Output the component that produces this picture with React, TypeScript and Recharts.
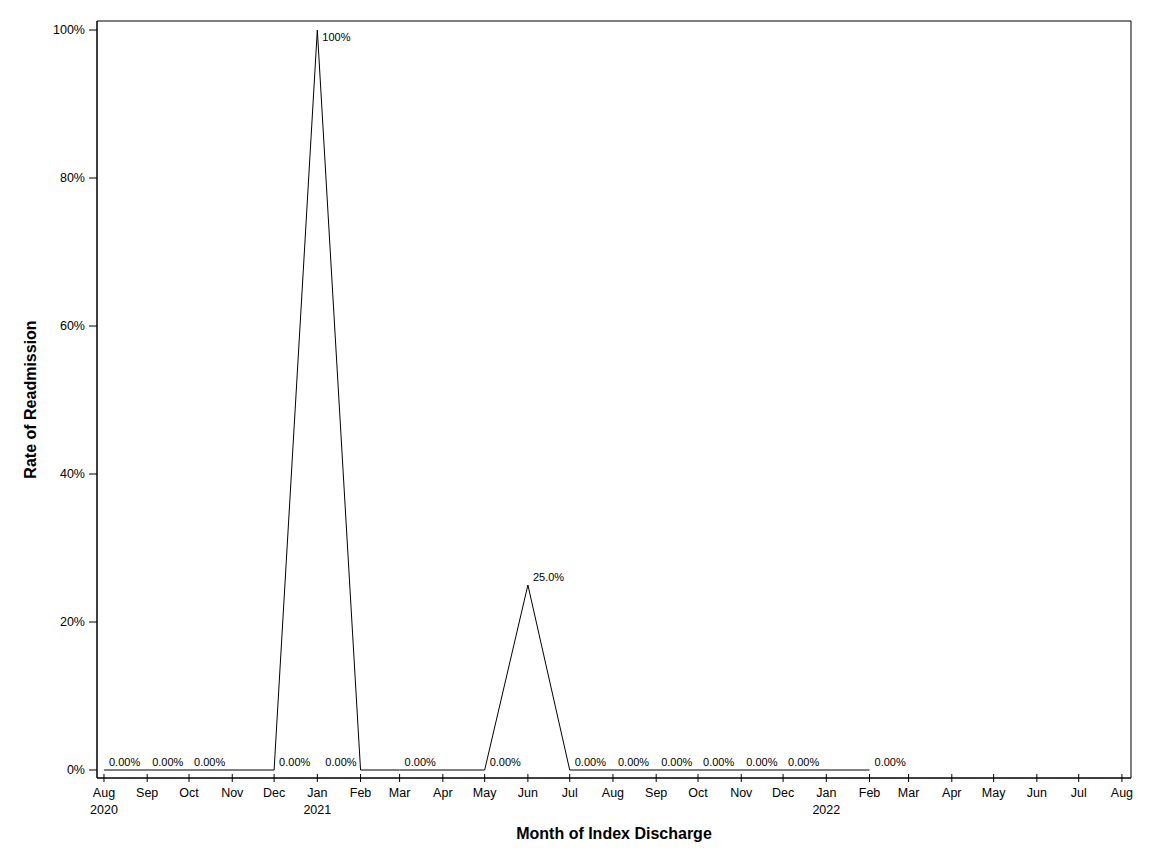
import { LineChart, Line, XAxis, YAxis, ReferenceArea, LabelList, Label } from 'recharts';

// index discharge months that have data, and the readmission rate for each
const months = [
  '2020-08-01', '2020-09-01', '2020-10-01', '2020-12-01', '2021-01-01', '2021-02-01',
  '2021-03-01', '2021-05-01', '2021-06-01', '2021-07-01', '2021-08-01', '2021-09-01',
  '2021-10-01', '2021-11-01', '2021-12-01', '2022-02-01',
];
const rates = [0, 0, 0, 0, 1, 0, 0, 0, 0.25, 0, 0, 0, 0, 0, 0, 0];

const tickDates = [
  '2020-08-01', '2020-09-01', '2020-10-01', '2020-11-01', '2020-12-01', '2021-01-01',
  '2021-02-01', '2021-03-01', '2021-04-01', '2021-05-01', '2021-06-01', '2021-07-01',
  '2021-08-01', '2021-09-01', '2021-10-01', '2021-11-01', '2021-12-01', '2022-01-01',
  '2022-02-01', '2022-03-01', '2022-04-01', '2022-05-01', '2022-06-01', '2022-07-01',
  '2022-08-01',
];
const tickMonths = [
  'Aug', 'Sep', 'Oct', 'Nov', 'Dec', 'Jan', 'Feb', 'Mar', 'Apr', 'May', 'Jun', 'Jul',
  'Aug', 'Sep', 'Oct', 'Nov', 'Dec', 'Jan', 'Feb', 'Mar', 'Apr', 'May', 'Jun', 'Jul', 'Aug',
];
const tickYears = [
  '2020', '', '', '', '', '2021', '', '', '', '', '', '',
  '', '', '', '', '', '2022', '', '', '', '', '', '', '',
];
const rateTicks = [0, 0.2, 0.4, 0.6, 0.8, 1];

const DAY = 86400000;
const ts = (s: string) => Date.parse(s + 'T00:00:00Z');

const data = months.map((m, i) => ({ t: ts(m), rate: rates[i] }));
const xTicks = tickDates.map(ts);
const xDomain = [ts('2020-08-01') - 5 * DAY, ts('2022-08-01') + 6.5 * DAY];
const yDomain = [-0.0108, 1.0122];

const FONT = '"Liberation Sans", Arial, sans-serif';

function MonthTick(props: any) {
  const { x, y, index } = props;
  return (
    <g>
      <line x1={x} x2={x} y1={y - 4} y2={y + 4} stroke="#000" />
      <text x={x} y={y + 19} textAnchor="middle" fontSize={12.5} fontFamily={FONT} fill="#000">
        {tickMonths[index]}
      </text>
      {tickYears[index] && (
        <text x={x} y={y + 36} textAnchor="middle" fontSize={12.5} fontFamily={FONT} fill="#000">
          {tickYears[index]}
        </text>
      )}
    </g>
  );
}

function PointLabel(props: any) {
  const { x, y, value, index } = props;
  const text = (value * 100).toPrecision(3) + '%';
  // the peak label sits under the point, the Feb 2021 one to the left of it
  const below = value >= 1;
  const left = months[index] === '2021-02-01';
  return (
    <text
      x={left ? x - 4 : x + 5}
      y={below ? y + 11 : y - 4}
      textAnchor={left ? 'end' : 'start'}
      fontSize={11}
      fontFamily={FONT}
      fill="#000"
    >
      {text}
    </text>
  );
}

export default function App() {
  return (
    <div style={{ position: 'absolute', left: 0, top: 0, width: 1152, height: 864, background: '#fff' }}>
      <LineChart width={1152} height={864} data={data} margin={{ top: 21, right: 21, bottom: 0, left: 0 }}>
        <XAxis
          dataKey="t"
          type="number"
          domain={xDomain}
          ticks={xTicks}
          interval={0}
          height={86}
          tickSize={0}
          tickMargin={0}
          tickLine={false}
          axisLine={{ stroke: '#000' }}
          tick={<MonthTick />}
          allowDataOverflow
        >
          <Label
            value="Month of Index Discharge"
            position="insideBottom"
            offset={25}
            style={{ fontSize: 16, fontWeight: 'bold', fontFamily: FONT, fill: '#000' }}
          />
        </XAxis>
        <YAxis
          type="number"
          domain={yDomain}
          ticks={rateTicks}
          width={97}
          tickSize={8}
          tickMargin={4}
          tickLine={{ stroke: '#000' }}
          axisLine={{ stroke: '#000' }}
          tick={{ fill: '#000', fontSize: 12.5, fontFamily: FONT }}
          tickFormatter={(v: number) => Math.round(v * 100) + '%'}
          allowDataOverflow
        >
          <Label
            value="Rate of Readmission"
            angle={-90}
            position="insideLeft"
            offset={30}
            style={{ fontSize: 16, fontWeight: 'bold', fontFamily: FONT, fill: '#000', textAnchor: 'middle' }}
          />
        </YAxis>
        <ReferenceArea
          x1={xDomain[0]}
          x2={xDomain[1]}
          y1={yDomain[0]}
          y2={yDomain[1]}
          fill="none"
          stroke="#000"
          fillOpacity={0}
        />
        <Line
          type="linear"
          dataKey="rate"
          stroke="#000"
          strokeWidth={1}
          dot={false}
          isAnimationActive={false}
        >
          <LabelList dataKey="rate" content={<PointLabel />} />
        </Line>
      </LineChart>
    </div>
  );
}
